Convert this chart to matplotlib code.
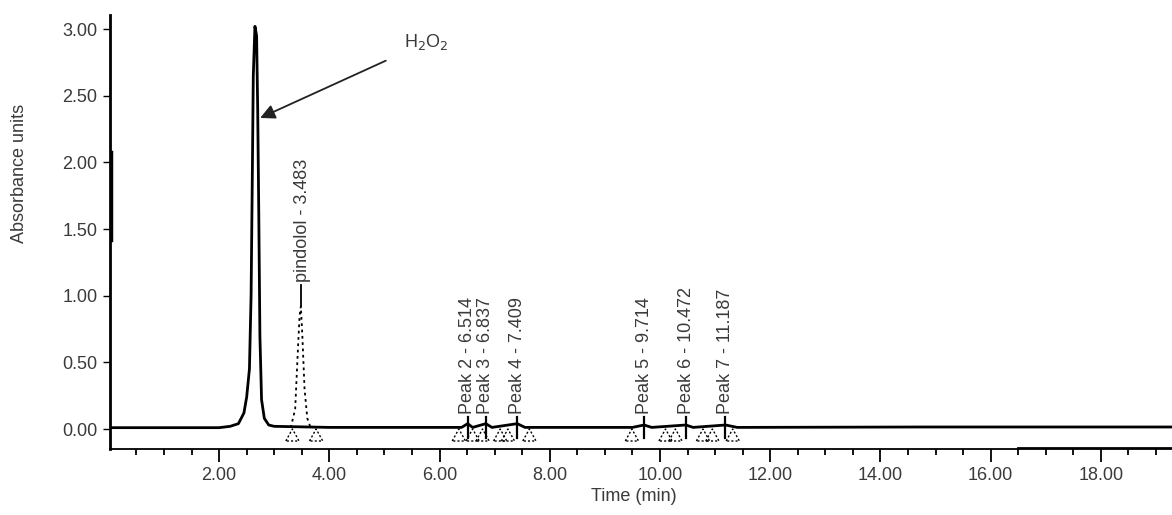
import numpy as np
import matplotlib.pyplot as plt

plt.rcParams['font.family'] = ['Liberation Sans', 'DejaVu Sans']

# main chromatogram (solid trace)
main_t = [0.03, 1.00, 2.00, 2.20, 2.35, 2.45, 2.50, 2.55, 2.58, 2.60, 2.62, 2.65, 2.68,
          2.70, 2.72, 2.74, 2.77, 2.82, 2.90, 3.00, 4.00, 6.40, 6.51, 6.60, 6.84,
          6.95, 7.41, 7.55, 9.50, 9.71, 9.85, 10.47, 10.60, 11.19, 11.40, 14.70,
          16.50, 19.40]
main_y = [0.01, 0.01, 0.01, 0.02, 0.04, 0.12, 0.24, 0.45, 1.00, 1.80, 2.65, 3.02, 2.95,
          2.40, 1.60, 0.70, 0.22, 0.08, 0.03, 0.02, 0.012, 0.012, 0.04, 0.012, 0.04,
          0.012, 0.04, 0.012, 0.012, 0.03, 0.012, 0.03, 0.012, 0.03, 0.012, 0.015,
          0.015, 0.015]

# injection artefact on the left axis
inject_y = [1.42, 2.08]

# pindolol peak (dotted trace)
pin_t = [3.30, 3.38, 3.43, 3.46, 3.483, 3.51, 3.55, 3.60, 3.66]
pin_y = [0.01, 0.15, 0.60, 0.85, 0.92, 0.70, 0.30, 0.08, 0.01]

# blank trace along the bottom
blank_t = [16.5, 19.4]
blank_y = [-0.142, -0.142]

# peak labels
peak_names = ['Peak 2 - 6.514', 'Peak 3 - 6.837', 'Peak 4 - 7.409', 'Peak 5 - 9.714',
              'Peak 6 - 10.472', 'Peak 7 - 11.187']
peak_times = [6.514, 6.837, 7.409, 9.714, 10.472, 11.187]

# integration marks under the baseline
tri_t = [3.33, 3.76, 6.35, 6.60, 6.78, 7.10, 7.24, 7.63, 9.49, 10.10, 10.28,
         10.78, 10.95, 11.32]

txt = '#3a3a3a'

fig = plt.figure(figsize=(11.72, 5.15), dpi=100)
ax = fig.add_axes([110/1172, 66/515, 1062/1172, 434/515])

ax.plot(main_t, main_y, color='black', lw=2.0)
ax.plot([0.03, 0.03], inject_y, color='black', lw=2.5)
ax.plot(pin_t, pin_y, color='black', lw=1.3, ls=(0, (1.5, 2)))
ax.plot(blank_t, blank_y, color='black', lw=2)

# pindolol marker + label
ax.plot([3.483, 3.483], [0.92, 1.08], color='black', lw=1.3)
ax.text(3.52, 1.10, 'pindolol - 3.483', rotation=90, ha='center', va='bottom',
        fontsize=13, color=txt)

for name, t in zip(peak_names, peak_times):
    ax.plot([t, t], [-0.07, 0.09], color='black', lw=1.6)
    ax.text(t, 0.115, name, rotation=90, ha='center', va='bottom', fontsize=13,
            color=txt)

for t in tri_t:
    ax.plot([t - 0.12, t, t + 0.12, t - 0.12], [-0.09, 0.0, -0.09, -0.09],
            color='black', lw=1.0, ls=(0, (1.5, 1.5)))

ax.annotate('H$_2$O$_2$', xy=(2.745, 2.333), xytext=(5.35, 2.90), fontsize=13,
            color=txt, va='center', ha='left',
            arrowprops=dict(arrowstyle='-|>', color='#222222', lw=1.3,
                            mutation_scale=22, shrinkA=12, shrinkB=0))

ax.set_xlim(0.02, 19.29)
ax.set_ylim(-0.15, 3.105)
ax.set_xticks(np.arange(2, 19, 2))
ax.set_xticks(np.arange(0.5, 19.3, 0.5), minor=True)
ax.set_yticks(np.arange(0, 3.01, 0.5))
ax.xaxis.set_major_formatter(plt.FormatStrFormatter('%.2f'))
ax.yaxis.set_major_formatter(plt.FormatStrFormatter('%.2f'))

for s in ['top', 'right']:
    ax.spines[s].set_visible(False)
ax.spines['left'].set_linewidth(2)
ax.spines['bottom'].set_linewidth(1.3)

ax.tick_params(axis='x', which='major', length=9, width=1.3, pad=4, labelsize=13,
               labelcolor=txt)
ax.tick_params(axis='x', which='minor', length=4, width=1.3)
ax.tick_params(axis='y', length=5, width=1, pad=4, labelsize=13, labelcolor=txt)

ax.set_xlabel('Time (min)', fontsize=13, color=txt)
ax.set_ylabel('Absorbance units', fontsize=13, color=txt)
ax.xaxis.set_label_coords(0.493, -0.09)
ax.yaxis.set_label_coords(-0.077, 0.635)

fig.savefig('out.png', dpi=100)
